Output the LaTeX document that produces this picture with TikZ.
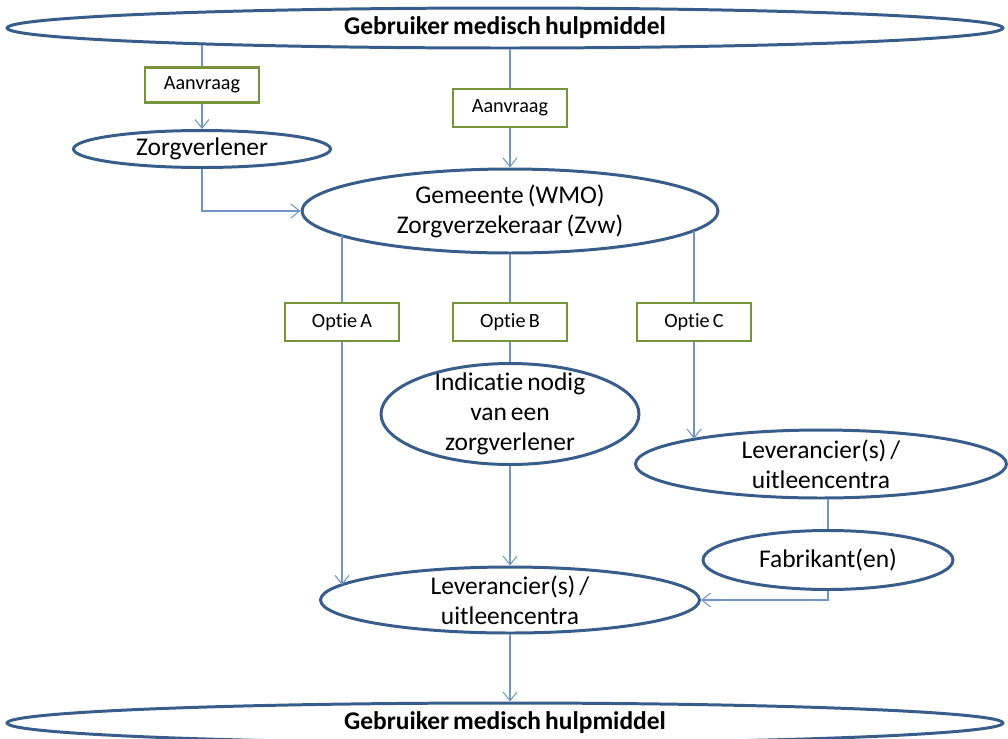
\documentclass[tikz,border=0pt]{standalone}
\usepackage{fontspec}
\setmainfont{Carlito}[Ligatures=NoCommon,WordSpace=0.7]
\usetikzlibrary{shapes.geometric,arrows.meta}
\definecolor{ovalblue}{RGB}{56,93,138}
\definecolor{linkblue}{RGB}{110,150,200}
\definecolor{boxgreen}{RGB}{119,147,60}
\begin{document}
\begin{tikzpicture}[x=0.02cm,y=-0.02cm,
 oval/.style={ellipse,draw=ovalblue,line width=1.7pt,inner sep=-5pt,align=center,font=\fontsize{14.5}{17}\selectfont},
 user/.style={oval,minimum width=19.92cm,minimum height=0.8cm,font=\fontsize{14.5}{17}\selectfont\bfseries},
 optbox/.style={rectangle,draw=boxgreen,line width=1.5pt,fill=white,minimum width=2.28cm,minimum height=0.76cm,font=\fontsize{11.5}{13}\selectfont},
 link/.style={draw=linkblue,line width=0.6pt},
 arr/.style={link,-{Straight Barb[length=5pt,width=8pt]}}]
 \useasboundingbox (0,0) rectangle (1008,738);
 \node[user] (top) at (505,28) {Gebruiker medisch hulpmiddel};
 \node[optbox,minimum height=0.7cm] (aanv1) at (202,85) {Aanvraag};
 \node[oval,minimum width=5.14cm,minimum height=0.74cm] (zorg) at (202,149) {Zorgverlener};
 \node[optbox] (aanv2) at (510,108) {Aanvraag};
 \node[oval,minimum width=8.32cm,minimum height=1.68cm] (gem) at (510,211) {Gemeente (WMO)\\Zorgverzekeraar (Zvw)};
 \node[optbox] (optA) at (342,322) {Optie A};
 \node[optbox] (optB) at (510,322) {Optie B};
 \node[optbox] (optC) at (694,322) {Optie C};
 \node[oval,minimum width=5.16cm,minimum height=2.02cm] (ind) at (510,414) {Indicatie nodig\\van een\\zorgverlener};
 \node[oval,minimum width=7.42cm,minimum height=1.36cm] (levR) at (821,464) {Leverancier(s) /\\uitleencentra};
 \node[oval,minimum width=5cm,minimum height=1.18cm] (fab) at (828,560) {Fabrikant(en)};
 \node[oval,minimum width=7.58cm,minimum height=1.32cm] (levB) at (510,600) {Leverancier(s) /\\uitleencentra};
 \node[user] (bot) at (505,723) {Gebruiker medisch hulpmiddel};

 \draw[link] (aanv1.north |- top.183) -- (aanv1.north);
 \draw[arr] (aanv1) -- (zorg);
 \draw[link] (aanv2.north |- top.south) -- (aanv2.north);
 \draw[arr] (aanv2) -- (gem);
 \draw[arr] (zorg) |- (gem);
 \draw[link] (optA.north |- gem.188) -- (optA);
 \draw[arr] (optA) -- (optA |- levB.175);
 \draw[link] (gem) -- (optB);
 \draw[link] (optB) -- (ind);
 \draw[arr] (ind) -- (levB);
 \draw[link] (optC.north |- gem.354) -- (optC);
 \draw[arr] (optC) -- (optC |- levR.169);
 \draw[link] (fab.north |- levR.south) -- (fab);
 \draw[arr] (fab) |- (levB);
 \draw[arr] (levB) -- (levB |- bot.north);
\end{tikzpicture}
\end{document}
